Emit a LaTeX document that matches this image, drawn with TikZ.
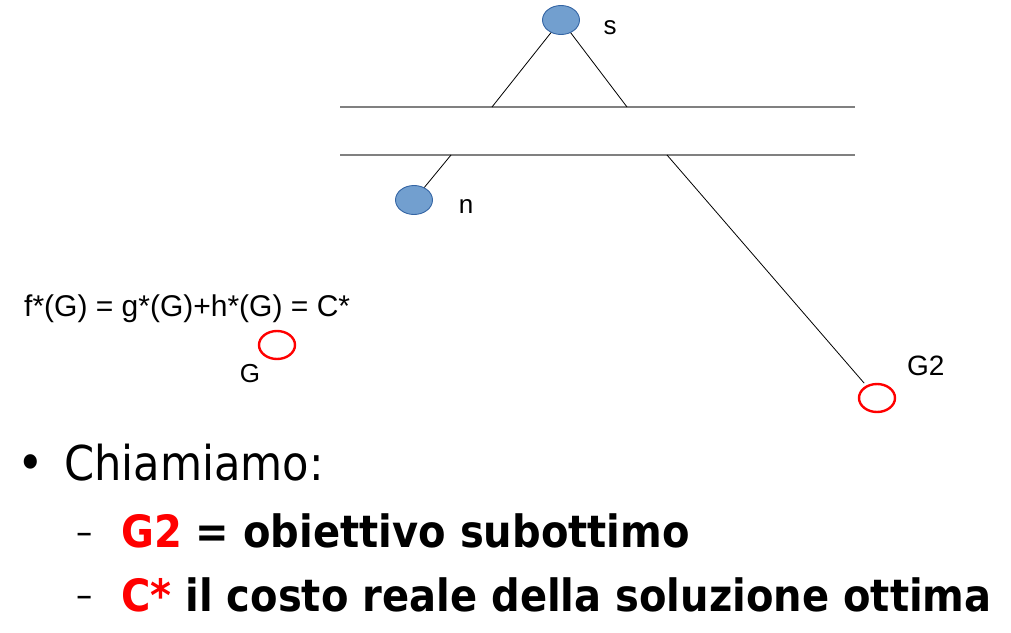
\documentclass[tikz,border=0pt]{standalone}
\usepackage{fontspec}
\setmainfont{Liberation Sans}
\newfontfamily\slidefont[FakeStretch=0.9]{DejaVu Sans}
\usetikzlibrary{shapes.geometric}
\definecolor{nodeblue}{HTML}{729FCF}
\definecolor{nodeedge}{HTML}{3465A4}
\definecolor{goalred}{HTML}{FF0000}
\newcommand{\fsz}[1]{\fontsize{#1}{#1}\selectfont}
\begin{document}
\begin{tikzpicture}[x=1pt, y=-1pt,
  state/.style={ellipse, draw=nodeedge, fill=nodeblue, line width=0.9pt,
    minimum width=37pt, minimum height=29pt, inner sep=0pt},
  goal/.style={ellipse, draw=goalred, line width=2.4pt,
    minimum width=36pt, minimum height=28pt, inner sep=0pt},
  lab/.style={inner sep=0pt, font=\fsz{26}},
  frontier/.style={draw=gray, line width=1.6pt},
  edge/.style={draw=black, line width=0.8pt}]
\useasboundingbox (0,0) rectangle (1011,632);

% tree nodes
\node[state] (s) at (561,20) {};
\node[state] (n) at (414,200) {};
\node[goal] (G) at (277,345) {};
\node[goal] (G2) at (877,398) {};

% node labels
\node[lab, anchor=base] (slab) at (610,34) {s};
\node[lab, anchor=base] (nlab) at (466,213) {n};
\node[lab, anchor=base] (Glab) at (250,382) {G};
\node[lab, anchor=base west, font=\fsz{28}] (G2lab) at (907,375) {G2};

% the two frontier lines
\coordinate (top l) at (340,107);
\coordinate (top r) at (855,107);
\coordinate (bot l) at (340,155);
\coordinate (bot r) at (855,155);
\draw[frontier] (top l) -- (top r);
\draw[frontier] (bot l) -- (bot r);

% connectors to the frontier
\coordinate (a1) at (492,107);
\coordinate (a2) at (627,107);
\coordinate (b1) at (451,155);
\coordinate (b2) at (667,155);
\draw[edge] (s) -- (a1);
\draw[edge] (s) -- (a2);
\draw[edge] (b1) -- (n);
\draw[edge, shorten >=3pt] (b2) -- (G2);

% cost equation
\node[inner sep=0pt, anchor=base west, font=\fsz{30}] (eq) at (24,316)
  {f*(G) = g*(G)+h*(G) = C*};

% bullet text
\node[inner sep=0pt, anchor=base, font=\slidefont\fsz{50}] (dot) at (31,480) {•};
\node[inner sep=0pt, anchor=base west, font=\slidefont\fsz{48}] (call) at (64,480)
  {Chiamiamo:};
\node[inner sep=0pt, anchor=base, font=\slidefont\fsz{36}] (d1) at (85,544) {–};
\node[inner sep=0pt, anchor=base, font=\slidefont\fsz{36}] (d2) at (85,607) {–};
\node[inner sep=0pt, anchor=base west, font=\slidefont\bfseries\fsz{44.5}] (item1) at (121,547)
  {\textcolor{goalred}{G2} = obiettivo subottimo};
\node[inner sep=0pt, anchor=base west, font=\slidefont\bfseries\fsz{44.5}] (item2) at (121,611)
  {\textcolor{goalred}{C*} il costo reale della soluzione ottima};
\end{tikzpicture}
\end{document}
